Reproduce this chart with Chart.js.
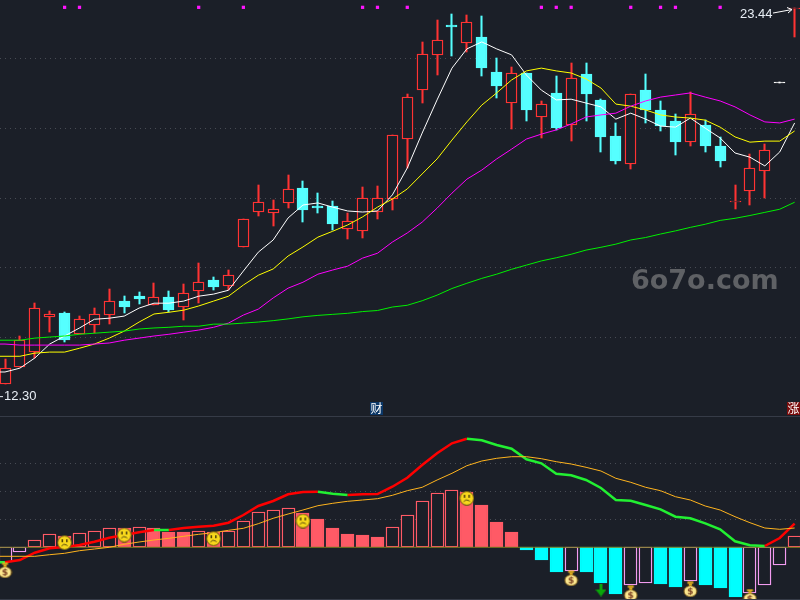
<!DOCTYPE html>
<html lang="en">
<head>
<meta charset="UTF-8">
<title>K-line with MACD</title>
<script src="https://cdn.jsdelivr.net/npm/chart.js@4"></script>
<style>
    html, body { margin: 0; padding: 0; background: #1b1f28; overflow: hidden; }
    canvas { position: absolute; left: 0; }
    #priceChart { top: 0; }
    #macdChart { top: 416px; }
    .rule { position: absolute; left: 0; width: 800px; height: 1px; background: #363b47; }
</style>
</head>
<body>
<canvas id="priceChart" width="800" height="416"></canvas>
<canvas id="macdChart" width="800" height="184"></canvas>
<div class="rule" style="top:416px"></div>
<div class="rule" style="top:599px"></div>
<script>
const dayOpen = [12.69,13.17,13.60,14.60,14.70,14.10,14.37,14.66,15.05,15.19,14.94,15.16,14.89,15.34,15.65,15.49,16.60,17.61,17.58,17.86,18.29,17.77,17.77,17.12,17.07,17.59,17.96,19.70,21.08,22.10,22.95,22.43,22.61,21.61,20.73,21.57,20.33,21.01,20.10,21.55,20.81,19.78,18.98,21.09,20.52,20.20,19.61,20.09,19.49,17.88,18.21,18.78,21.32,23.40];
const dayHigh = [13.39,14.06,14.99,14.76,14.73,14.62,14.84,15.39,15.19,15.31,15.56,15.34,15.54,16.13,15.73,15.94,17.39,18.37,17.94,18.66,18.49,18.14,17.91,17.56,18.31,18.34,19.80,20.98,22.47,23.10,23.27,23.24,23.21,22.01,21.75,21.57,20.78,21.49,21.87,21.87,20.83,20.15,20.97,21.55,20.78,20.40,21.03,20.23,19.75,18.37,19.26,19.55,21.32,23.44];
const dayLow = [12.69,13.17,13.42,14.16,13.88,14.10,14.15,14.39,14.70,14.96,14.94,14.74,14.51,15.00,15.36,15.36,16.60,17.48,17.20,17.71,17.31,17.58,17.08,16.83,16.85,17.40,17.66,18.85,20.73,21.52,22.07,22.19,21.49,20.86,19.98,20.20,19.72,19.95,19.63,20.20,19.32,18.97,18.83,20.15,19.92,19.23,19.49,19.32,18.89,17.68,17.80,18.00,21.32,22.62];
const dayClose = [13.12,13.93,14.84,14.67,13.93,14.53,14.69,15.04,14.88,15.11,15.16,14.79,15.27,15.59,15.45,15.81,17.39,17.90,17.70,18.25,17.66,17.71,17.25,17.33,17.99,17.99,19.80,20.88,22.12,22.52,22.91,23.03,21.72,21.21,21.57,20.52,20.68,20.00,21.43,20.98,19.75,19.06,20.97,20.52,20.06,19.60,20.40,19.49,19.06,17.91,18.85,19.37,21.32,23.43];

const ma5 = [13.02,13.13,13.42,13.82,14.05,14.28,14.53,14.56,14.62,14.85,14.99,14.99,15.05,15.19,15.25,15.36,15.91,16.45,16.80,17.43,17.80,17.86,17.74,17.63,17.60,17.63,18.09,18.86,19.86,20.81,21.72,22.27,22.47,22.27,22.10,21.52,21.09,20.81,20.83,20.72,20.61,20.26,20.43,20.26,20.06,20.03,20.29,20.00,19.72,19.29,19.17,18.92,19.32,20.15];
const ma10 = [13.47,13.47,13.56,13.59,13.59,13.70,13.82,13.99,14.19,14.45,14.68,14.73,14.79,14.91,15.05,15.19,15.51,15.79,15.97,16.34,16.60,16.88,17.05,17.23,17.46,17.74,17.97,18.26,18.69,19.12,19.66,20.18,20.66,21.01,21.38,21.64,21.72,21.64,21.58,21.41,21.15,20.69,20.63,20.52,20.38,20.32,20.29,20.23,20.03,19.75,19.60,19.63,19.63,19.92];
const ma20 = [13.82,13.79,13.79,13.79,13.79,13.79,13.82,13.85,13.93,13.99,14.05,14.10,14.16,14.22,14.30,14.42,14.65,14.82,15.14,15.42,15.59,15.82,15.94,16.05,16.28,16.42,16.74,17.00,17.31,17.71,18.14,18.54,18.80,19.12,19.40,19.69,19.83,19.95,20.12,20.32,20.38,20.43,20.63,20.78,20.89,20.95,21.01,20.89,20.78,20.61,20.38,20.18,20.15,20.26];
const ma60 = [13.93,13.93,13.99,14.02,14.05,14.10,14.13,14.16,14.19,14.25,14.28,14.30,14.33,14.33,14.39,14.39,14.42,14.45,14.49,14.54,14.60,14.64,14.67,14.70,14.75,14.78,14.88,14.93,15.06,15.22,15.41,15.56,15.70,15.82,15.96,16.08,16.20,16.29,16.39,16.51,16.59,16.68,16.80,16.87,16.97,17.06,17.16,17.25,17.36,17.42,17.50,17.59,17.68,17.88];

const macdHist = [-0.15,-0.05,0.07,0.13,0.11,0.14,0.16,0.192,0.19,0.20,0.19,0.15,0.15,0.16,0.15,0.16,0.26,0.35,0.37,0.39,0.34,0.28,0.19,0.13,0.12,0.10,0.20,0.32,0.46,0.54,0.57,0.556,0.42,0.25,0.15,-0.03,-0.13,-0.25,-0.24,-0.25,-0.36,-0.47,-0.38,-0.36,-0.37,-0.40,-0.34,-0.38,-0.41,-0.50,-0.46,-0.38,-0.18,0.11];
const macdDif = [-0.15,-0.127,-0.054,-0.01,0.003,0.023,0.056,0.096,0.123,0.15,0.173,0.173,0.193,0.206,0.216,0.246,0.323,0.413,0.463,0.53,0.553,0.556,0.536,0.523,0.53,0.533,0.606,0.696,0.823,0.94,1.04,1.086,1.07,1.023,0.986,0.88,0.84,0.736,0.72,0.673,0.593,0.473,0.466,0.423,0.38,0.306,0.29,0.24,0.18,0.06,0.02,0.013,0.093,0.236];
const macdDea = [-0.09,-0.09,-0.09,-0.074,-0.06,-0.034,-0.017,0,0.03,0.053,0.073,0.09,0.11,0.13,0.146,0.17,0.19,0.236,0.29,0.333,0.373,0.416,0.44,0.46,0.473,0.486,0.52,0.566,0.60,0.673,0.74,0.816,0.863,0.89,0.906,0.906,0.886,0.856,0.833,0.80,0.763,0.69,0.65,0.60,0.566,0.506,0.473,0.413,0.373,0.306,0.246,0.193,0.18,0.193];

const priceTicks = [14, 16, 18, 20, 22];
const macdTicks = [0.28, 0.56, 0.84];
const markerDays = [4, 5, 13, 16, 24, 25, 27, 36, 37, 38, 42, 44, 45, 48];
const markerPrice = 23.46;
const sadDays = [4, 8, 14, 20, 31];
const sadValues = [0.046, 0.123, 0.086, 0.263, 0.49];
const bagDays = [0, 38, 42, 46, 50];
const bagValues = [-0.23, -0.31, -0.46, -0.42, -0.494];
const sellDays = [40];
const sellValues = [-0.427];
const lowLabel = 12.30;
const highLabel = 23.44;

const BG = '#1b1f28';
const RED = '#ff3333';
const CYAN = '#55ffff';
const days = dayClose.map((v, i) => i);
const xRange = { type: 'linear', display: false, min: -0.336, max: 53.36, offset: false, grid: { display: false } };

function candleColor(i) {
    if (dayClose[i] > dayOpen[i]) return RED;
    if (dayClose[i] < dayOpen[i]) return CYAN;
    return '#ffffff';
}

// the first value is repeated one day earlier so the line runs in from the left edge
function lineSet(values, color, width) {
    return {
        type: 'line', order: 1,
        data: [{ x: -1, y: values[0] }].concat(days.map(i => ({ x: i, y: values[i] }))),
        borderColor: color, borderWidth: width, pointRadius: 0, tension: 0
    };
}

function yAxis(min, max, tickList) {
    return {
        min: min, max: max,
        afterBuildTicks: scale => { scale.ticks = tickList.map(value => ({ value })); },
        afterFit: scale => { scale.width = 0; },
        ticks: { display: false },
        border: { display: false, dash: [1, 4] },
        grid: { color: '#474b54', lineWidth: 1, drawTicks: false }
    };
}

// bars land on whole pixels, the reference has crisp edges
const snapBars = {
    id: 'snapBars',
    beforeDatasetsDraw(chart) {
        chart.data.datasets.forEach((ds, n) => {
            const meta = chart.getDatasetMeta(n);
            if (meta.type !== 'bar') return;
            meta.data.forEach(bar => {
                bar.x = Math.floor(bar.x) + 0.5;
                bar.y = Math.round(bar.y);
                bar.base = Math.round(bar.base);
                if (bar.base === bar.y) bar.base = bar.y + 1;
            });
        });
    }
};

function badge(ctx, text, x, fill) {
    ctx.fillStyle = fill;
    ctx.fillRect(x, 402, 13, 13);
    ctx.fillStyle = '#ffffff';
    ctx.font = '12px "Noto Sans CJK SC"';
    ctx.textAlign = 'center';
    ctx.textBaseline = 'middle';
    ctx.fillText(text, x + 6.5, 408.5);
}

const priceLabels = {
    id: 'priceLabels',
    afterDraw(chart) {
        const ctx = chart.ctx;
        const y = chart.scales.y;
        ctx.save();
        ctx.fillStyle = '#5f6165';
        ctx.font = 'bold 27px "DejaVu Sans"';
        ctx.textAlign = 'left';
        ctx.textBaseline = 'alphabetic';
        ctx.fillText('6o7o.com', 631, 289);

        ctx.fillStyle = '#e8eef5';
        ctx.font = '13px "Liberation Sans"';
        ctx.textBaseline = 'middle';
        const lowY = y.getPixelForValue(lowLabel);
        ctx.fillRect(0, lowY - 1, 3, 1);
        ctx.fillText(lowLabel.toFixed(2), 4, lowY - 0.5);
        const highY = y.getPixelForValue(highLabel);
        ctx.fillText(highLabel.toFixed(2), 740, highY + 6.5);

        ctx.strokeStyle = '#ffffff';
        ctx.lineWidth = 1;
        ctx.beginPath();
        ctx.moveTo(773, highY + 5);
        ctx.lineTo(792, highY + 1.5);
        ctx.moveTo(787, highY - 0.5);
        ctx.lineTo(792, highY + 1.5);
        ctx.lineTo(788, highY + 5);
        ctx.stroke();

        badge(ctx, '财', 370, '#0b3768');
        badge(ctx, '涨', 787, '#7a0c0c');
        ctx.restore();
    }
};

function makeIcon(w, h, paint) {
    const c = document.createElement('canvas');
    c.width = w;
    c.height = h;
    paint(c.getContext('2d'));
    return c;
}

const sadFace = makeIcon(15, 15, g => {
    g.fillStyle = '#f8d81c';
    g.strokeStyle = '#5a4c10';
    g.beginPath();
    g.arc(7.5, 7.5, 6.9, 0, Math.PI * 2);
    g.fill();
    g.stroke();
    g.fillStyle = '#4a3d0a';
    g.fillRect(4.5, 4, 1.5, 3);
    g.fillRect(9, 4, 1.5, 3);
    g.lineWidth = 1;
    g.beginPath();
    g.arc(7.5, 13, 3.8, Math.PI * 1.2, Math.PI * 1.8);
    g.stroke();
});

const moneyBag = makeIcon(15, 16, g => {
    g.fillStyle = '#fbe68e';
    g.strokeStyle = '#6a4a12';
    g.beginPath();
    g.ellipse(7.5, 10, 6.5, 5.5, 0, 0, Math.PI * 2);
    g.fill();
    g.stroke();
    g.fillStyle = '#eeb81e';
    g.fillRect(4.5, 0.5, 6, 2);
    g.fillRect(6, 2.5, 3, 2);
    g.fillStyle = '#7a3f22';
    g.font = 'bold 9px "DejaVu Sans"';
    g.textAlign = 'center';
    g.textBaseline = 'middle';
    g.fillText('$', 7.5, 10.5);
});

const sellArrow = makeIcon(11, 13, g => {
    g.fillStyle = '#0aa60a';
    g.fillRect(4, 0, 3, 7);
    g.beginPath();
    g.moveTo(0, 6);
    g.lineTo(11, 6);
    g.lineTo(5.5, 13);
    g.closePath();
    g.fill();
});

function iconSet(xs, ys, icon) {
    return {
        type: 'scatter', order: 0, data: xs.map((d, i) => ({ x: d, y: ys[i] })),
        pointStyle: icon, pointRadius: 7, showLine: false
    };
}

const baseOptions = {
    responsive: false,
    animation: false,
    devicePixelRatio: 1,
    events: [],
    layout: { padding: 0, autoPadding: false },
    plugins: { legend: { display: false }, tooltip: { enabled: false } }
};

new Chart(document.getElementById('priceChart'), {
    type: 'bar',
    data: {
        datasets: [
            {
                order: 3, grouped: false, barThickness: 1.4, borderWidth: 0,
                data: days.map(i => ({ x: i, y: [dayLow[i], dayHigh[i]] })),
                backgroundColor: days.map(candleColor)
            },
            {
                order: 2, grouped: false, barThickness: 11, borderWidth: 1.4, borderSkipped: false,
                data: days.map(i => ({ x: i, y: [dayOpen[i], dayClose[i]] })),
                borderColor: days.map(candleColor),
                backgroundColor: days.map(i => dayClose[i] > dayOpen[i] ? BG : candleColor(i))
            },
            lineSet(ma60, '#00f000', 1),
            lineSet(ma20, '#ff00ff', 1),
            lineSet(ma10, '#ffff00', 1),
            lineSet(ma5, '#ffffff', 1),
            {
                type: 'scatter', order: 0, data: markerDays.map(d => ({ x: d, y: markerPrice })),
                pointStyle: 'rect', pointRadius: 2.3, backgroundColor: '#ff14ff', borderWidth: 0
            }
        ]
    },
    options: { ...baseOptions, scales: { x: xRange, y: yAxis(11.76, 23.67, priceTicks) } },
    plugins: [snapBars, priceLabels]
});

const histUp = days.map(i => i === 0 || macdHist[i] > macdHist[i - 1]);

new Chart(document.getElementById('macdChart'), {
    type: 'bar',
    data: {
        datasets: [
            {
                order: 3, grouped: false, barThickness: 13, borderWidth: 1.4, borderSkipped: false,
                data: days.map(i => ({ x: i, y: macdHist[i] })),
                borderColor: days.map(i => macdHist[i] > 0 ? '#ff5a66' : (histUp[i] ? '#f29bf0' : '#00ffff')),
                backgroundColor: days.map(i => histUp[i] ? BG : (macdHist[i] > 0 ? '#ff5a66' : '#00ffff'))
            },
            {
                type: 'line', order: 2, data: [{ x: -0.336, y: 0 }, { x: 53.36, y: 0 }],
                borderColor: '#7d7d1e', borderWidth: 1, pointRadius: 0
            },
            lineSet(macdDea, '#ffb41e', 1),
            {
                ...lineSet(macdDif, RED, 2.5),
                segment: { borderColor: c => c.p1.parsed.y > c.p0.parsed.y ? '#ff0000' : '#22f032' }
            },
            iconSet(sadDays, sadValues, sadFace),
            iconSet(bagDays, bagValues, moneyBag),
            iconSet(sellDays, sellValues, sellArrow)
        ]
    },
    options: { ...baseOptions, scales: { x: xRange, y: yAxis(-0.527, 1.313, macdTicks) } },
    plugins: [snapBars]
});
</script>
</body>
</html>
